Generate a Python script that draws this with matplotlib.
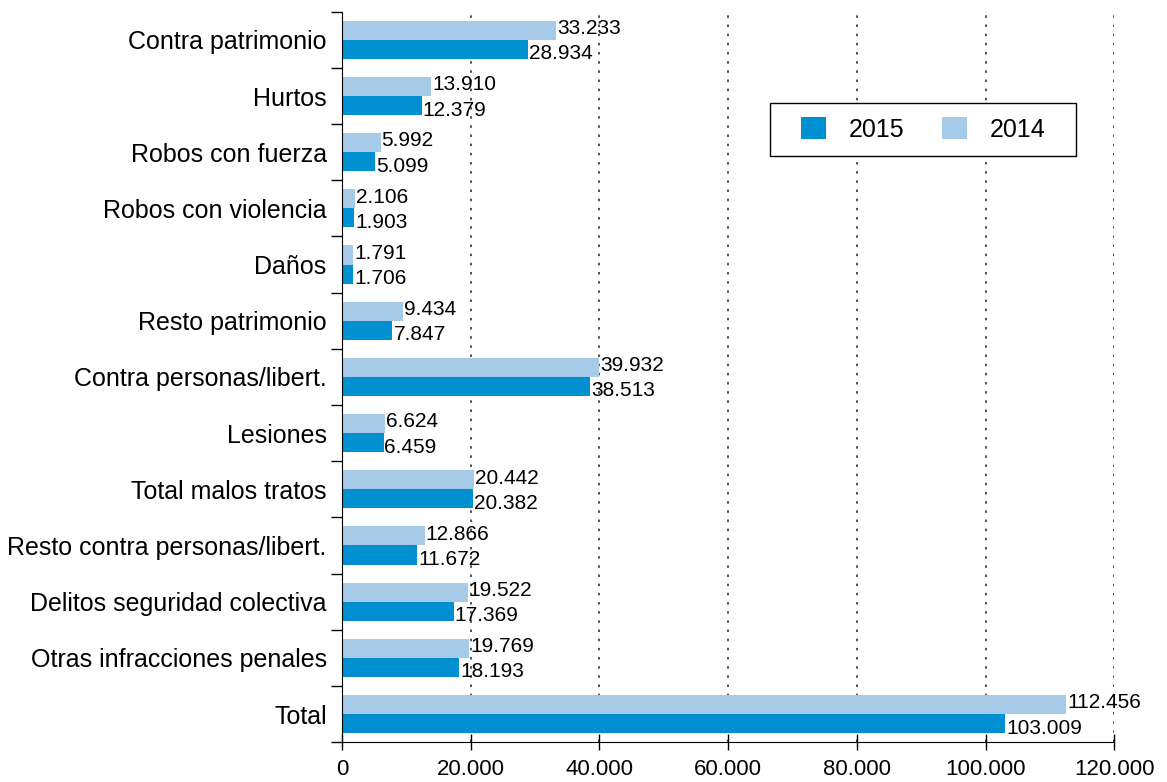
import numpy as np
import matplotlib
matplotlib.use('Agg')
import matplotlib.pyplot as plt
from matplotlib.patches import Rectangle
from matplotlib.ticker import FuncFormatter, MultipleLocator

plt.rcParams['font.family'] = ['Liberation Sans', 'DejaVu Sans']

categorias = ['Contra patrimonio', 'Hurtos', 'Robos con fuerza', 'Robos con violencia',
              'Daños', 'Resto patrimonio', 'Contra personas/libert.', 'Lesiones',
              'Total malos tratos', 'Resto contra personas/libert.',
              'Delitos seguridad colectiva', 'Otras infracciones penales', 'Total']
v2014 = [33233, 13910, 5992, 2106, 1791, 9434, 39932, 6624, 20442, 12866, 19522, 19769, 112456]
v2015 = [28934, 12379, 5099, 1903, 1706, 7847, 38513, 6459, 20382, 11672, 17369, 18193, 103009]

c15 = '#008fd0'
c14 = '#a6cbe8'

def miles(x):
    return f'{int(round(x)):,}'.replace(',', '.')

fig = plt.figure(figsize=(11.67, 7.82), dpi=100)
ax = fig.add_axes([0.293, 0.051, 0.662, 0.934])

y = np.arange(len(categorias))
h = 0.34
ax.barh(y - h / 2, v2014, height=h, color=c14, label='2014', zorder=2)
ax.barh(y + h / 2, v2015, height=h, color=c15, label='2015', zorder=2)

for i in range(len(categorias)):
    ax.text(v2014[i] + 150, y[i] - h / 2 - 0.03, miles(v2014[i]), va='center', ha='left', fontsize=15, zorder=3)
    ax.text(v2015[i] + 150, y[i] + h / 2 + 0.08, miles(v2015[i]), va='center', ha='left', fontsize=15, zorder=3)

ax.set_ylim(len(categorias) - 0.5, -0.5)
ax.set_xlim(0, 120000)
ax.set_yticks(y)
ax.set_yticklabels(categorias, fontsize=18)
ax.set_yticks(np.arange(-0.5, len(categorias)), minor=True)
ax.tick_params(axis='y', which='major', length=0, pad=11)
ax.tick_params(axis='y', which='minor', length=8, width=1, direction='out')

ax.xaxis.set_major_locator(MultipleLocator(20000))
ax.xaxis.set_major_formatter(FuncFormatter(lambda x, p: miles(x)))
ax.tick_params(axis='x', which='major', length=12, width=1, direction='inout', labelsize=16, pad=6)

for gx in range(20000, 120001, 20000):
    ax.axvline(gx, color='#333333', linestyle=(0, (1.5, 4)), linewidth=1.2, zorder=1)

ax.spines['top'].set_visible(False)
ax.spines['right'].set_visible(False)

# legend box drawn by hand (wider side padding than matplotlib gives)
ax.add_patch(Rectangle((0.5537, 0.8027), 0.3971, 0.0723, transform=ax.transAxes,
                       facecolor='white', edgecolor='black', linewidth=1.0, zorder=4))
leg = ax.legend(handles=[ax.containers[1], ax.containers[0]], labels=['2015', '2014'],
                ncol=2, loc='center', bbox_to_anchor=(0.7523, 0.839),
                fontsize=18, frameon=False,
                handlelength=1.0, handleheight=1.0, columnspacing=1.5, handletextpad=0.9,
                borderpad=0.0, borderaxespad=0)
leg.set_zorder(5)

fig.savefig('out.png', dpi=100)
